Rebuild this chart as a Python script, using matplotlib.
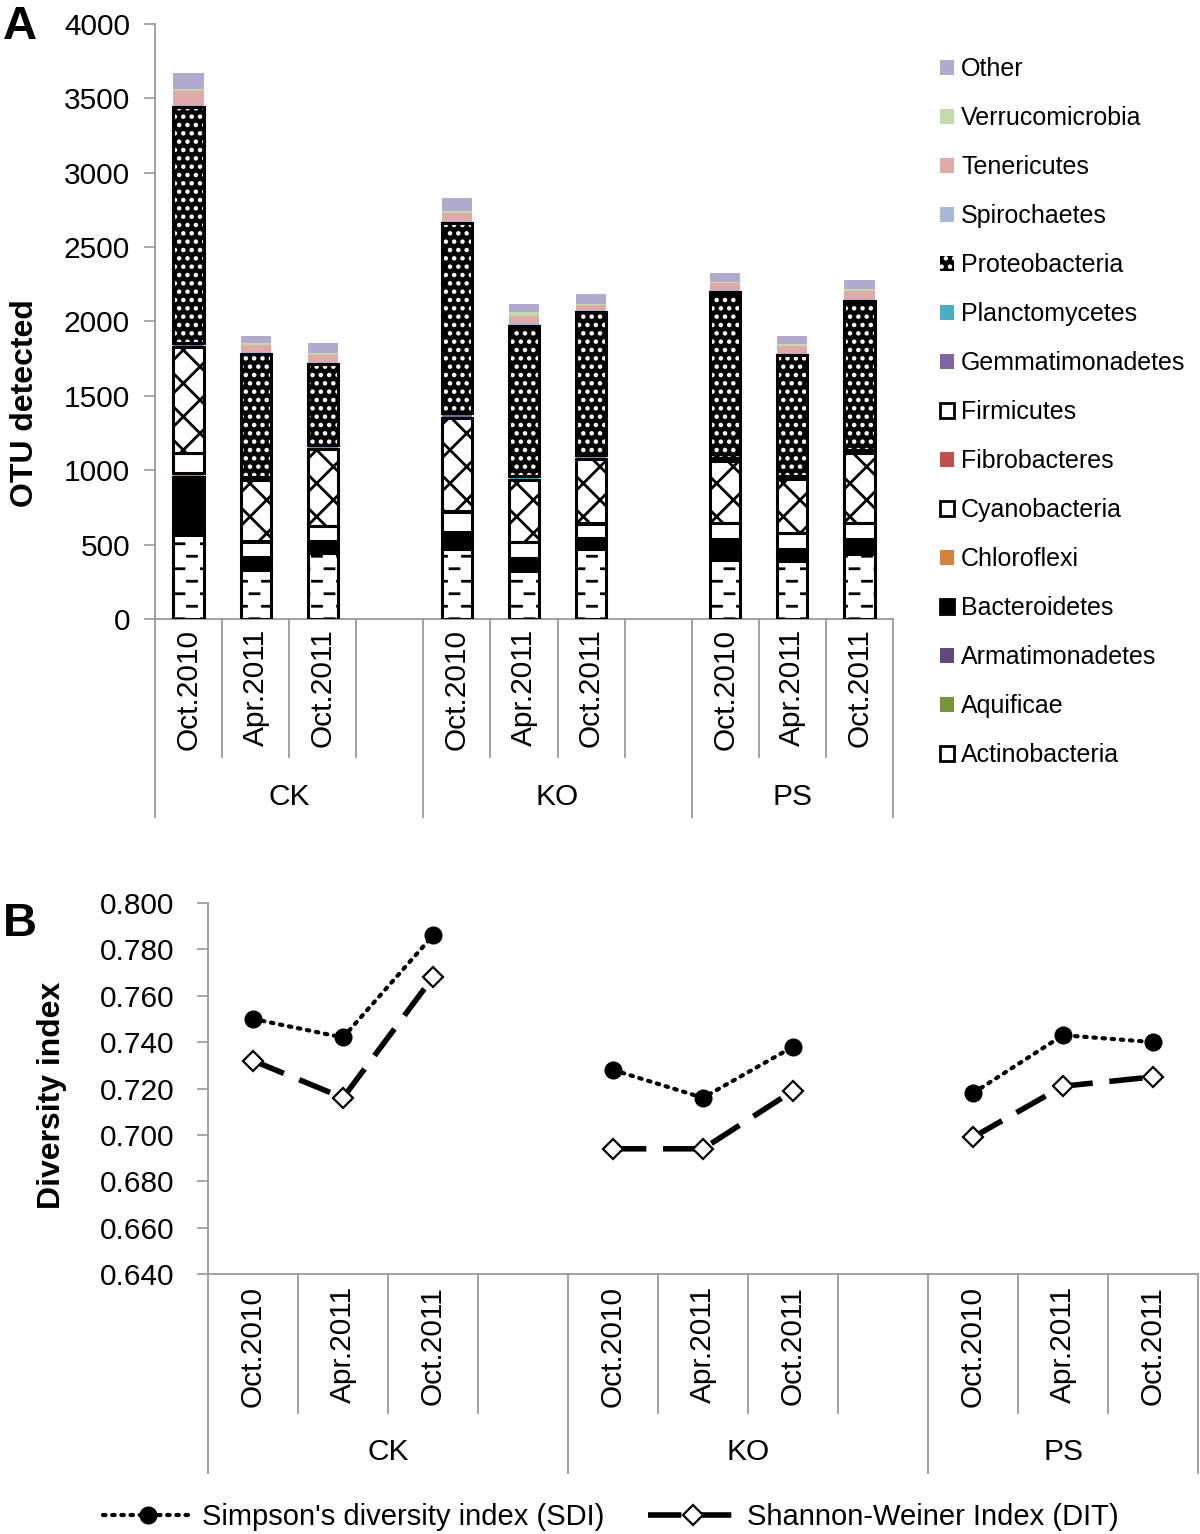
import warnings
import matplotlib
matplotlib.use('Agg')
import matplotlib.pyplot as plt
import matplotlib.transforms as mtransforms
import matplotlib.hatch as mhatch
from matplotlib.path import Path
import numpy as np
from matplotlib.patches import Patch
from matplotlib.lines import Line2D

warnings.filterwarnings('ignore')
plt.rcParams['font.family'] = ['Liberation Sans', 'DejaVu Sans']
plt.rcParams['hatch.linewidth'] = 2.0


# custom "dashed horizontal" hatch (Excel-like), triggered by '_'
class DashedHorizontalHatch(mhatch.HatchPatternBase):
    def __init__(self, hatch, density):
        n = hatch.count('_')
        self.rows = 8 * n
        self.cols = 4
        self.num_vertices = self.rows * self.cols * 2

    def set_vertices_and_codes(self, vertices, codes):
        i = 0
        for r in range(self.rows):
            y = (r + 0.5) / self.rows
            off = 0.0 if r % 2 == 0 else 0.5 / self.cols
            for c in range(self.cols):
                x0 = c / self.cols + off
                vertices[i] = (x0, y)
                vertices[i + 1] = (x0 + 0.09, y)
                codes[i] = Path.MOVETO
                codes[i + 1] = Path.LINETO
                i += 2


mhatch._hatch_types.append(DashedHorizontalHatch)

# ---------------- data ----------------
sites = ['CK', 'KO', 'PS']
dates = ['Oct.2010', 'Apr.2011', 'Oct.2011']

phyla = ['Actinobacteria', 'Aquificae', 'Armatimonadetes', 'Bacteroidetes', 'Chloroflexi',
         'Cyanobacteria', 'Fibrobacteres', 'Firmicutes', 'Gemmatimonadetes', 'Planctomycetes',
         'Proteobacteria', 'Spirochaetes', 'Tenericutes', 'Verrucomicrobia', 'Other']

# OTU counts per bar: CK(Oct10, Apr11, Oct11), KO(...), PS(...)
actinobacteria   = [565, 331, 443, 473, 326, 473, 397, 390, 440]
aquificae        = [3, 3, 3, 3, 3, 3, 3, 3, 3]
armatimonadetes  = [3, 3, 3, 3, 3, 3, 3, 3, 3]
bacteroidetes    = [386, 67, 71, 84, 55, 50, 121, 61, 78]
chloroflexi      = [24, 13, 7, 22, 23, 16, 14, 13, 14]
cyanobacteria    = [135, 103, 98, 136, 108, 97, 107, 106, 107]
fibrobacteres    = [3, 3, 3, 3, 3, 3, 3, 3, 3]
firmicutes       = [710, 411, 515, 629, 414, 429, 415, 359, 465]
gemmatimonadetes = [18, 15, 8, 20, 8, 6, 8, 16, 8]
planctomycetes   = [8, 8, 18, 13, 15, 25, 12, 5, 15]
proteobacteria   = [1587, 824, 545, 1276, 1015, 959, 1112, 817, 1002]
spirochaetes     = [15, 15, 15, 15, 15, 14, 14, 14, 14]
tenericutes      = [93, 46, 45, 52, 52, 30, 50, 47, 54]
verrucomicrobia  = [15, 15, 15, 11, 24, 12, 8, 12, 11]
other            = [105, 46, 66, 90, 51, 68, 59, 56, 64]

sdi = [0.750, 0.742, 0.786, 0.728, 0.716, 0.738, 0.718, 0.743, 0.740]
dit = [0.732, 0.716, 0.768, 0.694, 0.694, 0.719, 0.699, 0.721, 0.725]

values = [actinobacteria, aquificae, armatimonadetes, bacteroidetes, chloroflexi,
          cyanobacteria, fibrobacteres, firmicutes, gemmatimonadetes, planctomycetes,
          proteobacteria, spirochaetes, tenericutes, verrucomicrobia, other]

# styles: (facecolor, hatch, hatchcolor, outlined)
styles = {
    'Actinobacteria':   ('white', '_', 'black', True),
    'Aquificae':        ('#77933c', None, None, False),
    'Armatimonadetes':  ('#604a7b', None, None, False),
    'Bacteroidetes':    ('black', None, None, True),
    'Chloroflexi':      ('#d4823d', None, None, False),
    'Cyanobacteria':    ('white', None, None, True),
    'Fibrobacteres':    ('#c0504d', None, None, False),
    'Firmicutes':       ('white', 'x', 'black', True),
    'Gemmatimonadetes': ('#8064a2', None, None, False),
    'Planctomycetes':   ('#4bacc6', None, None, False),
    'Proteobacteria':   ('black', '..', 'white', True),
    'Spirochaetes':     ('#a9b8d6', None, None, False),
    'Tenericutes':      ('#e0a9a9', None, None, False),
    'Verrucomicrobia':  ('#c4d9ab', None, None, False),
    'Other':            ('#b3a9cc', None, None, False),
}

positions = [g * 4 + i for g in range(3) for i in range(3)]
GRAY = '#9a9a9a'
FS_TICK = 21.5
FS_CAT = 21.5

fig = plt.figure(figsize=(12, 15.34), dpi=100)

# ---------------- Panel A ----------------
axA = fig.add_axes([155 / 1200, 1 - 619 / 1534, (893 - 155) / 1200, (619 - 24) / 1534])
bottom = np.zeros(len(positions))
width = 0.45
for name, vals in zip(phyla, values):
    fc, hatch, hc, outlined = styles[name]
    vals = np.array(vals, dtype=float)
    if hatch:
        axA.bar(positions, vals, width, bottom=bottom, facecolor=fc, hatch=hatch,
                edgecolor=hc, linewidth=0, zorder=2)
    else:
        axA.bar(positions, vals, width, bottom=bottom, facecolor=fc, linewidth=0, zorder=2)
    if outlined:
        axA.bar(positions, vals, width, bottom=bottom, fill=False, edgecolor='black',
                linewidth=2.2, zorder=3)
    bottom += vals

axA.set_xlim(-0.5, 10.5)
axA.set_ylim(0, 4000)
axA.set_yticks(np.arange(0, 4001, 500))
axA.tick_params(axis='y', labelsize=FS_TICK, color=GRAY, length=8, width=1.2, pad=10)
axA.set_xticks([])
for s in ['top', 'right']:
    axA.spines[s].set_visible(False)
for s in ['left', 'bottom']:
    axA.spines[s].set_color(GRAY)
    axA.spines[s].set_linewidth(1.3)


def category_axis(ax, lab_y, short_y, long_y, grp_y, grp_x, fs):
    tr = mtransforms.blended_transform_factory(ax.transData, ax.transAxes)
    for k, p in enumerate(positions):
        ax.text(p, lab_y, dates[k % 3], rotation=90, ha='center', va='top',
                fontsize=fs, transform=tr)
    for d in np.arange(-0.5, 11, 1.0):
        yend = long_y if d in (-0.5, 3.5, 7.5, 10.5) else short_y
        ax.plot([d, d], [0, yend], color=GRAY, lw=1.3, transform=tr, clip_on=False)
    for s, gx in zip(sites, grp_x):
        ax.text(gx, grp_y, s, ha='center', va='center', fontsize=fs, transform=tr)


category_axis(axA, -0.016, -0.232, -0.333, -0.299, [1.5, 5.5, 9.0], FS_CAT)

handles = []
for n in phyla:
    fc, hatch, hc, outlined = styles[n]
    if n == 'Proteobacteria':
        handles.append(Patch(facecolor='black', hatch='..', edgecolor='white', linewidth=0))
    elif n == 'Actinobacteria':
        handles.append(Patch(facecolor='white', edgecolor='black', linewidth=2))
    else:
        handles.append(Patch(facecolor=fc, hatch=None,
                             edgecolor=('black' if outlined else fc), linewidth=2 if outlined else 0))
fig.legend(handles[::-1], phyla[::-1], loc='upper left',
           bbox_to_anchor=(940 / 1200, 1 - 57 / 1534), frameon=False, fontsize=18,
           handlelength=0.55, handleheight=0.55, handletextpad=0.3, labelspacing=1.0,
           borderpad=0, borderaxespad=0)

fig.text(25 / 1200, 1 - 403 / 1534, 'OTU detected', rotation=90, ha='center', va='center',
         fontsize=23, fontweight='bold')
fig.text(20 / 1200, 1 - 27 / 1534, 'A', ha='center', va='center', fontsize=34, fontweight='bold')

# ---------------- Panel B ----------------
axB = fig.add_axes([208 / 1200, 1 - 1274 / 1534, (1198 - 208) / 1200, (1274 - 903) / 1534])
for g in range(3):
    xs = positions[g * 3:(g + 1) * 3]
    axB.plot(xs, sdi[g * 3:(g + 1) * 3], color='black', lw=3, linestyle=(0, (0.6, 1.6)),
             dash_capstyle='round', marker='o', markersize=12, markerfacecolor='black', zorder=3)
    axB.plot(xs, dit[g * 3:(g + 1) * 3], color='black', lw=4, linestyle=(0, (6, 3)),
             marker='D', markersize=10, markerfacecolor='white', markeredgewidth=1.6, zorder=3)
axB.set_xlim(-0.5, 10.5)
axB.set_ylim(0.64, 0.80)
axB.set_yticks(np.arange(0.64, 0.8001, 0.02))
axB.yaxis.set_major_formatter(matplotlib.ticker.FormatStrFormatter('%.3f'))
axB.tick_params(axis='y', labelsize=FS_TICK, color=GRAY, length=8, width=1.2, pad=16)
axB.set_xticks([])
for s in ['top', 'right']:
    axB.spines[s].set_visible(False)
for s in ['left', 'bottom']:
    axB.spines[s].set_color(GRAY)
    axB.spines[s].set_linewidth(1.3)

category_axis(axB, -0.032, -0.375, -0.536, -0.48, [1.5, 5.5, 9.0], FS_CAT)

fig.text(52 / 1200, 1 - 1095 / 1534, 'Diversity index', rotation=90, ha='center', va='center',
         fontsize=23, fontweight='bold')
fig.text(20 / 1200, 1 - 924 / 1534, 'B', ha='center', va='center', fontsize=34, fontweight='bold')

lh = [Line2D([], [], color='black', lw=3, linestyle=(0, (0.6, 1.6)), dash_capstyle='round',
             marker='o', markersize=12, markerfacecolor='black'),
      Line2D([], [], color='black', lw=4, linestyle=(0, (6, 3)), marker='D', markersize=10,
             markerfacecolor='white', markeredgewidth=1.6)]
fig.legend(lh, ["Simpson's diversity index (SDI)", 'Shannon-Weiner Index (DIT)'],
           loc='center', bbox_to_anchor=(611 / 1200, 1 - 1517 / 1534), ncol=2, frameon=False,
           fontsize=21, handlelength=3.1, handletextpad=0.3, columnspacing=1.5,
           borderpad=0, borderaxespad=0)

fig.savefig('out.png', dpi=100)
